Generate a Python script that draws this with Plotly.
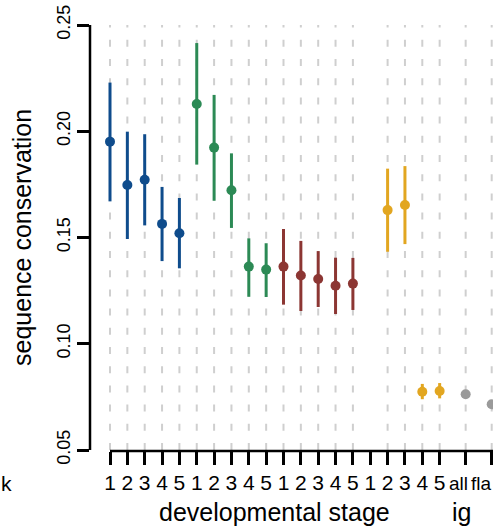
import plotly.graph_objects as go

# Developmental stage labels and group structure
stage_labels = ["1", "2", "3", "4", "5"] * 4
extra_labels = ["all", "fla"]
extra_pos = [20.5, 22.0]

# Mean conservation with upper / lower interval bounds per group (stages 1-5)
blue_mean = [0.1951, 0.1747, 0.1772, 0.1564, 0.1520]
blue_hi = [0.2229, 0.1998, 0.1986, 0.1738, 0.1686]
blue_lo = [0.1670, 0.1493, 0.1557, 0.1389, 0.1355]

green_mean = [0.2128, 0.1923, 0.1722, 0.1363, 0.1349]
green_hi = [0.2415, 0.2171, 0.1896, 0.1496, 0.1473]
green_lo = [0.1843, 0.1673, 0.1545, 0.1221, 0.1220]

red_mean = [0.1363, 0.1321, 0.1305, 0.1273, 0.1283]
red_hi = [0.1540, 0.1484, 0.1436, 0.1405, 0.1404]
red_lo = [0.1184, 0.1154, 0.1173, 0.1140, 0.1159]

yellow_mean = [None, 0.1629, 0.1653, 0.0774, 0.0778]
yellow_hi = [None, 0.1824, 0.1836, 0.0811, 0.0815]
yellow_lo = [None, 0.1433, 0.1469, 0.0739, 0.0743]

grey_mean = [0.0762, 0.0715]

y_ticks = [0.05, 0.10, 0.15, 0.20, 0.25]
y_tick_text = ["0.05", "0.10", "0.15", "0.20", "0.25"]

colors = {
    "blue": "#0f4c8c",
    "green": "#2c8a55",
    "red": "#8c3633",
    "yellow": "#e2a620",
    "grey": "#9a9a9a",
}

FONT = "Liberation Sans, Arial, Helvetica, sans-serif"

fig = go.Figure()

groups = [
    ("blue", blue_mean, blue_hi, blue_lo),
    ("green", green_mean, green_hi, green_lo),
    ("red", red_mean, red_hi, red_lo),
    ("yellow", yellow_mean, yellow_hi, yellow_lo),
]

grid_x = []
for g, (name, mean, hi, lo) in enumerate(groups):
    xs, ys, up, dn = [], [], [], []
    for i, m in enumerate(mean):
        if m is None:
            continue
        xs.append(g * 5 + i)
        ys.append(m)
        up.append(hi[i] - m)
        dn.append(m - lo[i])
    grid_x.extend(xs)
    fig.add_trace(go.Scatter(
        x=xs, y=ys, mode="markers",
        marker=dict(color=colors[name], size=10, line=dict(width=0)),
        error_y=dict(type="data", symmetric=False, array=up, arrayminus=dn,
                     color=colors[name], thickness=3, width=0),
        showlegend=False, hoverinfo="skip",
    ))

grid_x.extend(extra_pos)
fig.add_trace(go.Scatter(
    x=extra_pos, y=grey_mean, mode="markers",
    marker=dict(color=colors["grey"], size=10, line=dict(width=0)),
    showlegend=False, hoverinfo="skip",
))

# dashed vertical guides for every populated category
for xv in grid_x:
    fig.add_shape(type="line", xref="x", yref="y", x0=xv, x1=xv, y0=0.05, y1=0.25,
                  line=dict(color="#cfcfcf", width=2, dash="7px,12.2px"), layer="below")

x_min, x_max = -1.1527, 22.075
x_span_px = 403.0
x_first_paper = (0 - x_min) / (x_max - x_min)

# detached axis lines
fig.add_shape(type="line", xref="paper", yref="y", x0=0, x1=0, y0=0.05, y1=0.25,
              line=dict(color="black", width=2.5))
fig.add_shape(type="line", xref="paper", yref="paper", x0=x_first_paper, x1=1.02, y0=0, y1=0,
              line=dict(color="black", width=2.5))

# numeric stages get axis tick labels; the summary categories are labelled by hand
tick_vals = list(range(20)) + extra_pos
tick_text = stage_labels + ["", ""]

tick_font = dict(size=21, family=FONT, color="black")
small_font = dict(size=19, family=FONT, color="black")
title_font = dict(size=25, family=FONT, color="black")
label_y = -0.0745

fig.update_layout(
    width=493, height=528,
    margin=dict(l=90, r=0, t=20, b=77),
    plot_bgcolor="white", paper_bgcolor="white",
    font=dict(family=FONT, color="black"),
    xaxis=dict(range=[x_min, x_max], tickvals=tick_vals, ticktext=tick_text,
               ticks="outside", ticklen=13, tickwidth=2.5, tickcolor="black",
               tickangle=0, ticklabeloverflow="allow",
               showline=False, showgrid=False, zeroline=False,
               tickfont=tick_font),
    yaxis=dict(range=[0.05 - 1 / 2125, 0.25 + 5 / 2125], tickvals=y_ticks, ticktext=y_tick_text,
               ticks="outside", ticklen=12, tickwidth=2.5, tickcolor="black",
               tickangle=-90, showline=False, showgrid=False, zeroline=False,
               tickfont=dict(size=18, family=FONT, color="black")),
    annotations=[
        dict(text="sequence conservation", xref="paper", yref="y", x=-0.17, y=0.15,
             textangle=-90, showarrow=False, xanchor="center", yanchor="middle",
             font=title_font),
        dict(text="developmental stage", xref="x", yref="paper", x=9.5, y=-0.142,
             showarrow=False, xanchor="center", yanchor="middle", font=title_font),
        dict(text="ig", xref="x", yref="paper", x=extra_pos[0] - 0.25, y=-0.142,
             showarrow=False, xanchor="center", yanchor="middle", font=title_font),
        dict(text=extra_labels[0], xref="x", yref="paper", x=extra_pos[0] - 0.4, y=label_y,
             showarrow=False, xanchor="center", yanchor="middle", borderpad=0, font=small_font),
        dict(text=extra_labels[1], xref="paper", yref="paper", x=1.0, y=label_y,
             showarrow=False, xanchor="right", yanchor="middle", borderpad=0, font=small_font),
        dict(text="k", xref="paper", yref="paper", x=-90 / x_span_px, y=label_y,
             showarrow=False, xanchor="left", yanchor="middle", borderpad=0, font=tick_font),
    ],
)

fig.write_html("out.html")
